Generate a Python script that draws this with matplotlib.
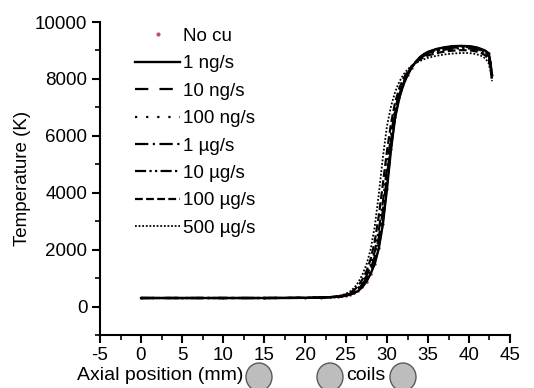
import matplotlib
matplotlib.use("Agg")
import matplotlib.pyplot as plt
from matplotlib.patches import Ellipse
from matplotlib.ticker import MultipleLocator

plt.rcParams['font.family'] = ['Liberation Sans', 'DejaVu Sans']
plt.rcParams['axes.unicode_minus'] = False

# Axial positions (mm) shared by all series
axial_mm = [0, 5, 10, 15, 20, 22, 23, 23.5, 24, 24.5, 25, 25.5, 26, 26.5, 27, 27.5,
            28, 28.5, 29, 29.5, 30, 30.5, 31, 31.5, 32, 32.5, 33, 33.5, 34, 34.5,
            35, 36, 37, 38, 39, 40, 40.5, 41, 41.5, 42, 42.4, 42.6, 42.8]

# Temperature (K) along the axis for each copper feed rate
t_no_cu = [300, 300, 300, 300, 305, 314, 324, 334, 344, 359, 384, 419, 468, 553, 688, 878,
           1148, 1498, 2048, 2898, 4148, 5548, 6648, 7328, 7800, 8130, 8400, 8600, 8760, 8870,
           8950, 9050, 9110, 9150, 9160, 9150, 9130, 9100, 9050, 8990, 8900, 8600, 8150]
t_1ng = [300, 300, 300, 300, 305, 315, 325, 335, 345, 360, 385, 420, 470, 555, 690, 880,
         1150, 1500, 2050, 2900, 4150, 5550, 6650, 7330, 7800, 8130, 8400, 8600, 8760, 8870,
         8950, 9050, 9110, 9150, 9160, 9150, 9130, 9100, 9050, 8990, 8900, 8600, 8150]
t_10ng = [300, 300, 300, 300, 305, 315, 326, 336, 347, 363, 390, 428, 483, 576, 720, 922,
          1210, 1591, 2183, 3065, 4304, 5655, 6713, 7370, 7825, 8144, 8404, 8597, 8751, 8857,
          8935, 9033, 9093, 9132, 9143, 9133, 9113, 9083, 9033, 8971, 8876, 8579, 8134]
t_100ng = [300, 300, 300, 300, 305, 316, 326, 337, 348, 365, 393, 434, 495, 593, 746, 958,
           1260, 1669, 2297, 3206, 4436, 5745, 6767, 7404, 7846, 8156, 8408, 8595, 8743, 8847,
           8923, 9019, 9078, 9116, 9128, 9119, 9099, 9069, 9019, 8955, 8855, 8561, 8120]
t_1ug = [300, 300, 300, 300, 305, 316, 327, 338, 350, 368, 398, 442, 508, 614, 776, 1000,
         1320, 1760, 2430, 3370, 4590, 5850, 6830, 7444, 7870, 8170, 8412, 8592, 8734, 8834,
         8908, 9002, 9060, 9098, 9110, 9102, 9082, 9052, 9002, 8936, 8830, 8540, 8104]
t_10ug = [300, 300, 300, 300, 305, 317, 328, 340, 353, 373, 406, 456, 533, 652, 832, 1078,
          1430, 1929, 2677, 3676, 4876, 6045, 6947, 7518, 7916, 8196, 8420, 8587, 8717, 8811,
          8881, 8971, 9028, 9064, 9078, 9071, 9051, 9021, 8971, 8901, 8785, 8501, 8074]
t_100ug = [300, 300, 300, 300, 305, 318, 331, 344, 360, 384, 424, 486, 584, 732, 948, 1240,
           1660, 2280, 3190, 4310, 5470, 6450, 7190, 7672, 8010, 8250, 8436, 8576, 8682, 8762,
           8824, 8906, 8960, 8994, 9010, 9006, 8986, 8956, 8906, 8828, 8690, 8420, 8012]
t_500ug = [300, 300, 300, 300, 305, 320, 335, 350, 370, 400, 450, 530, 660, 850, 1120, 1480,
           2000, 2800, 3950, 5250, 6350, 7050, 7550, 7900, 8150, 8330, 8460, 8560, 8630, 8690,
           8740, 8810, 8860, 8890, 8910, 8910, 8890, 8860, 8810, 8720, 8550, 8300, 7920]

series_labels = ["1 ng/s", "10 ng/s", "100 ng/s", "1 \u00b5g/s", "10 \u00b5g/s",
                 "100 \u00b5g/s", "500 \u00b5g/s"]
series_values = [t_1ng, t_10ng, t_100ng, t_1ug, t_10ug, t_100ug, t_500ug]
series_styles = ['-', (0, (6, 5)), (0, (1, 4)), (0, (6, 2, 1, 2)),
                 (0, (5, 1.5, 1, 1.5, 1, 1.5)), (0, (3.5, 1.5)), (0, (1, 1))]
series_widths = [1.7, 1.6, 1.6, 1.6, 1.6, 1.6, 1.3]

fig = plt.figure(figsize=(5.34, 3.88), dpi=100)
ax = fig.add_axes([100 / 534, 1 - 335 / 388, 410 / 534, 313 / 388])

ax.plot(axial_mm, t_no_cu, color='#9c2a40', linewidth=1.2, marker='.', markersize=1.5,
        label="No cu")
for vals, lab, ls, lw in zip(series_values, series_labels, series_styles, series_widths):
    ax.plot(axial_mm, vals, linestyle=ls, linewidth=lw, color='black', label=lab)

ax.set_xlim(-5, 45)
ax.set_ylim(-1000, 10000)
ax.xaxis.set_major_locator(MultipleLocator(5))
ax.xaxis.set_minor_locator(MultipleLocator(2.5))
ax.yaxis.set_major_locator(MultipleLocator(2000))
ax.yaxis.set_minor_locator(MultipleLocator(1000))

for side in ('top', 'right'):
    ax.spines[side].set_visible(False)
for side in ('left', 'bottom'):
    ax.spines[side].set_linewidth(1.5)
ax.tick_params(which='major', direction='out', length=6, width=1.5, labelsize=13.5, pad=3)
ax.tick_params(which='minor', direction='out', length=3.5, width=1.2)

ax.set_ylabel("Temperature (K)", fontsize=13.5, labelpad=3)

leg = ax.legend(loc='upper left', bbox_to_anchor=(35 / 410, 0.982), frameon=False,
                fontsize=13.5, handlelength=2.4, handletextpad=0.15, labelspacing=0.55,
                borderpad=0, borderaxespad=0)
# the copper-free series is keyed by its point marker only
no_cu_handle = leg.legend_handles[0]
no_cu_handle.set_linestyle('none')
no_cu_handle.set_markersize(4)
no_cu_handle.set_color('#c0506a')

# Axis caption and the coil cross-sections beneath the axis
fig.text(77 / 534, 1 - 376 / 388, "Axial position (mm)", fontsize=14, va='center', ha='left')
for cx in (259, 330, 403):
    fig.patches.append(Ellipse((cx / 534, 1 - 377 / 388), 26 / 534, 28 / 388,
                               transform=fig.transFigure, facecolor='#bdbdbd',
                               edgecolor='#5a5a5a', linewidth=1.0))
fig.text(346 / 534, 1 - 376 / 388, "coils", fontsize=14, va='center', ha='left')

fig.savefig("out.png", dpi=100)
